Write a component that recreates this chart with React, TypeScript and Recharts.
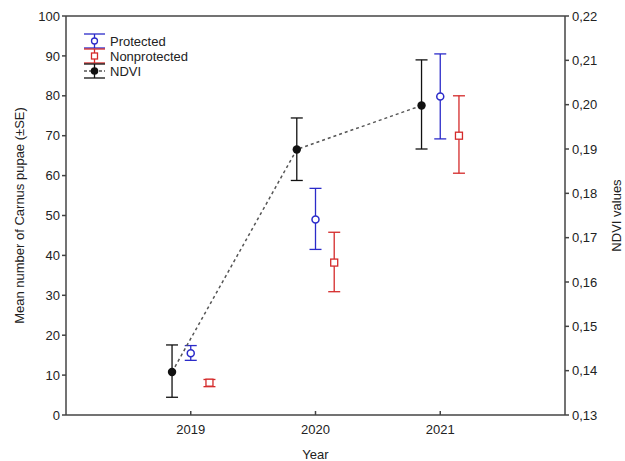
import { ComposedChart, Scatter, ErrorBar, XAxis, YAxis, ReferenceLine } from 'recharts';

// Years on the x axis
const years = [2019, 2020, 2021];

// Mean number of Carnus pupae (±SE)
const protectedMean = [15.5, 49.0, 79.8];
const protectedLow = [13.7, 41.5, 69.2];
const protectedHigh = [17.4, 56.8, 90.5];

const nonprotMean = [8.1, 38.2, 70.0];
const nonprotLow = [7.1, 30.9, 60.6];
const nonprotHigh = [8.9, 45.8, 80.0];

// NDVI values (right axis)
const ndviMean = [0.1397, 0.1899, 0.1998];
const ndviLow = [0.134, 0.1829, 0.19];
const ndviHigh = [0.1458, 0.197, 0.2101];

const leftTicks = [0, 10, 20, 30, 40, 50, 60, 70, 80, 90, 100];
const rightTicks = [0.13, 0.14, 0.15, 0.16, 0.17, 0.18, 0.19, 0.2, 0.21, 0.22];

const colors = {
  protected: '#2b2bc9',
  nonprot: '#d42a2a',
  ndvi: '#111111',
  axis: '#444444',
  text: '#222222',
};

// horizontal dodge so the three series don't overlap at each year
const dodge = { ndvi: -0.15, protected: 0, nonprot: 0.15 };

const build = (mean: number[], low: number[], high: number[], off: number) =>
  years.map((yr, i) => ({
    x: yr + off,
    y: mean[i],
    err: [mean[i] - low[i], high[i] - mean[i]],
  }));

const protectedData = build(protectedMean, protectedLow, protectedHigh, dodge.protected);
const nonprotData = build(nonprotMean, nonprotLow, nonprotHigh, dodge.nonprot);
const ndviData = build(ndviMean, ndviLow, ndviHigh, dodge.ndvi);

const font = 'Arial, "Liberation Sans", sans-serif';
const tick = { fill: colors.text, fontSize: 13, fontFamily: font };

const OpenCircle = (p: any) => (
  <circle cx={p.cx} cy={p.cy} r={3.5} fill="#fff" stroke={colors.protected} strokeWidth={1.5} />
);
const OpenSquare = (p: any) => (
  <rect x={p.cx - 3.5} y={p.cy - 3.5} width={7} height={7} fill="#fff" stroke={colors.nonprot} strokeWidth={1.3} />
);
const Dot = (p: any) => <circle cx={p.cx} cy={p.cy} r={4.2} fill={colors.ndvi} />;

function LegendIcon({ y, color, kind }: { y: number; color: string; kind: string }) {
  return (
    <g>
      <line x1={84} x2={105} y1={y - 7} y2={y - 7} stroke={color} strokeWidth={1.3} />
      <line x1={94.5} x2={94.5} y1={y - 7} y2={y + 7} stroke={color} strokeWidth={1.3} />
      <line x1={84} x2={105} y1={y + 7} y2={y + 7} stroke={color} strokeWidth={1.3} />
      {kind === 'circle' && <circle cx={94.5} cy={y} r={3} fill="#fff" stroke={color} strokeWidth={1.3} />}
      {kind === 'square' && <rect x={91.5} y={y - 3} width={6} height={6} fill="#fff" stroke={color} strokeWidth={1.3} />}
      {kind === 'dot' && (
        <>
          <line x1={84} x2={105} y1={y} y2={y} stroke="#555" strokeWidth={1.3} strokeDasharray="3 2" />
          <circle cx={94.5} cy={y} r={3.8} fill={color} />
        </>
      )}
    </g>
  );
}

export default function App() {
  return (
    <div style={{ position: 'absolute', left: 0, top: 0, width: 625, height: 461, background: '#fff' }}>
      <ComposedChart width={625} height={461} margin={{ top: 16, right: 0, bottom: 0, left: 0 }}>
        <XAxis
          dataKey="x"
          type="number"
          domain={[2018, 2022]}
          ticks={years}
          allowDataOverflow
          height={46}
          tick={tick}
          tickSize={-4}
          tickMargin={14}
          stroke={colors.axis}
          strokeWidth={1.5}
          label={{ value: 'Year', position: 'insideBottom', offset: 2, fill: colors.text, fontSize: 13, fontFamily: font }}
        />
        <YAxis
          yAxisId="left"
          dataKey="y"
          type="number"
          domain={[0, 100]}
          ticks={leftTicks}
          width={66}
          tick={tick}
          tickSize={4}
          tickMargin={2}
          stroke={colors.axis}
          strokeWidth={1.5}
          label={{
            value: 'Mean number of Carnus pupae (±SE)',
            angle: -90,
            position: 'insideLeft',
            offset: 19,
            style: { textAnchor: 'middle' },
            fill: colors.text,
            fontSize: 13,
            fontFamily: font,
          }}
        />
        <YAxis
          yAxisId="right"
          orientation="right"
          dataKey="y"
          type="number"
          domain={[0.13, 0.22]}
          ticks={rightTicks}
          allowDataOverflow
          width={60}
          tick={tick}
          tickSize={4}
          tickMargin={3}
          tickFormatter={(v: number) => v.toFixed(2).replace('.', ',')}
          stroke={colors.axis}
          strokeWidth={1.5}
          label={{
            value: 'NDVI values',
            angle: -90,
            position: 'insideRight',
            offset: 9,
            style: { textAnchor: 'middle' },
            fill: colors.text,
            fontSize: 13,
            fontFamily: font,
          }}
        />
        <ReferenceLine yAxisId="left" y={100} stroke={colors.axis} strokeWidth={1.5} />

        <Scatter
          name="NDVI"
          yAxisId="right"
          data={ndviData}
          line={{ stroke: '#555', strokeWidth: 1.5, strokeDasharray: '3 3' }}
          lineType="joint"
          shape={Dot}
          isAnimationActive={false}
        >
          <ErrorBar dataKey="err" direction="y" width={6} stroke={colors.ndvi} strokeWidth={1.3} />
        </Scatter>
        <Scatter name="Protected" yAxisId="left" data={protectedData} shape={OpenCircle} isAnimationActive={false}>
          <ErrorBar dataKey="err" direction="y" width={6} stroke={colors.protected} strokeWidth={1.3} />
        </Scatter>
        <Scatter name="Nonprotected" yAxisId="left" data={nonprotData} shape={OpenSquare} isAnimationActive={false}>
          <ErrorBar dataKey="err" direction="y" width={6} stroke={colors.nonprot} strokeWidth={1.3} />
        </Scatter>
      </ComposedChart>

      <svg width={625} height={461} style={{ position: 'absolute', left: 0, top: 0, pointerEvents: 'none' }}>
        <LegendIcon y={41} color={colors.protected} kind="circle" />
        <LegendIcon y={56} color={colors.nonprot} kind="square" />
        <LegendIcon y={71} color={colors.ndvi} kind="dot" />
        <g fontFamily={font} fontSize={13} fill={colors.text}>
          <text x={110} y={45.5}>Protected</text>
          <text x={110} y={60.5}>Nonprotected</text>
          <text x={110} y={75.5}>NDVI</text>
        </g>
      </svg>
    </div>
  );
}
